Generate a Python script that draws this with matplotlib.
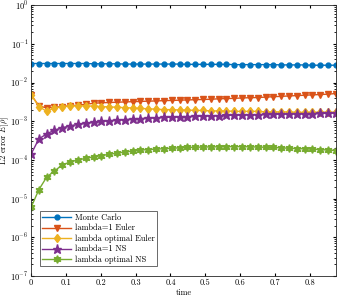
import matplotlib
matplotlib.use("Agg")
import matplotlib.pyplot as plt
import numpy as np

plt.rcParams['font.family'] = ['cmr10', 'DejaVu Serif']
plt.rcParams['mathtext.fontset'] = 'cm'
plt.rcParams['axes.formatter.use_mathtext'] = True

# 40 time points from 0 to 0.875
t = np.linspace(0, 0.875, 40)

mc = [3.1e-2, 3.1e-2, 3.1e-2, 3.1e-2, 3.1e-2, 3.1e-2, 3.1e-2, 3.1e-2, 3.05e-2, 3.05e-2,
      3.05e-2, 3.05e-2, 3.0e-2, 3.0e-2, 3.0e-2, 3.0e-2, 3.0e-2, 3.0e-2, 3.0e-2, 3.0e-2,
      2.95e-2, 2.95e-2, 2.95e-2, 2.95e-2, 2.95e-2, 2.95e-2, 2.9e-2, 2.9e-2, 2.9e-2, 2.9e-2,
      2.9e-2, 2.9e-2, 2.85e-2, 2.85e-2, 2.85e-2, 2.85e-2, 2.8e-2, 2.8e-2, 2.8e-2, 2.8e-2]

euler1 = [4.9e-3, 2.5e-3, 2.2e-3, 2.3e-3, 2.4e-3, 2.5e-3, 2.6e-3, 2.75e-3, 2.9e-3, 3.0e-3,
          3.05e-3, 3.1e-3, 3.15e-3, 3.2e-3, 3.25e-3, 3.3e-3, 3.35e-3, 3.4e-3, 3.45e-3, 3.5e-3,
          3.55e-3, 3.6e-3, 3.65e-3, 3.7e-3, 3.8e-3, 3.85e-3, 3.9e-3, 4.0e-3, 4.05e-3, 4.1e-3,
          4.2e-3, 4.3e-3, 4.4e-3, 4.5e-3, 4.6e-3, 4.7e-3, 4.8e-3, 4.9e-3, 5.0e-3, 5.2e-3]

euler_opt = [4.9e-3, 2.4e-3, 1.8e-3, 2.2e-3, 2.4e-3, 2.5e-3, 2.5e-3, 2.5e-3, 2.45e-3, 2.4e-3,
             2.35e-3, 2.3e-3, 2.25e-3, 2.2e-3, 2.15e-3, 2.1e-3, 2.05e-3, 2.0e-3, 2.0e-3, 1.95e-3,
             1.95e-3, 1.9e-3, 1.9e-3, 1.85e-3, 1.85e-3, 1.85e-3, 1.8e-3, 1.8e-3, 1.8e-3, 1.8e-3,
             1.75e-3, 1.75e-3, 1.75e-3, 1.75e-3, 1.7e-3, 1.7e-3, 1.7e-3, 1.7e-3, 1.7e-3, 1.7e-3]

ns1 = [1.4e-4, 3.5e-4, 4.7e-4, 5.9e-4, 6.8e-4, 7.6e-4, 8.3e-4, 8.9e-4, 9.4e-4, 9.9e-4,
       1.03e-3, 1.07e-3, 1.1e-3, 1.14e-3, 1.17e-3, 1.2e-3, 1.23e-3, 1.25e-3, 1.28e-3, 1.3e-3,
       1.32e-3, 1.34e-3, 1.36e-3, 1.38e-3, 1.4e-3, 1.42e-3, 1.44e-3, 1.45e-3, 1.47e-3, 1.48e-3,
       1.5e-3, 1.51e-3, 1.53e-3, 1.54e-3, 1.55e-3, 1.57e-3, 1.58e-3, 1.59e-3, 1.6e-3, 1.62e-3]

ns_opt = [5.9e-6, 1.7e-5, 3.6e-5, 5.2e-5, 7.4e-5, 8.9e-5, 1.0e-4, 1.1e-4, 1.2e-4, 1.3e-4,
          1.4e-4, 1.5e-4, 1.6e-4, 1.7e-4, 1.8e-4, 1.85e-4, 1.9e-4, 1.95e-4, 2.0e-4, 2.05e-4,
          2.1e-4, 2.12e-4, 2.15e-4, 2.17e-4, 2.18e-4, 2.2e-4, 2.2e-4, 2.2e-4, 2.18e-4, 2.15e-4,
          2.12e-4, 2.1e-4, 2.05e-4, 2.0e-4, 1.97e-4, 1.93e-4, 1.9e-4, 1.85e-4, 1.8e-4, 1.75e-4]

labels = ['Monte Carlo', 'lambda=1 Euler', 'lambda optimal Euler', 'lambda=1 NS', 'lambda optimal NS']
colors = ['#0072bd', '#d95319', '#edb120', '#7e2f8e', '#77ac30']
markers = ['o', 'v', 'd', '*', (6, 1, 0)]
sizes = [3.5, 4.5, 4.5, 6.5, 5.5]

fig = plt.figure(figsize=(3.41, 3.02), dpi=100)
ax = fig.add_axes([0.091, 0.086, 0.894, 0.897])

for y, lab, c, m, s in zip([mc, euler1, euler_opt, ns1, ns_opt], labels, colors, markers, sizes):
    ax.semilogy(t, y, color=c, marker=m, markersize=s, lw=1.0, label=lab)

ax.set_xlim(0, 0.875)
ax.set_ylim(1e-7, 1)
ax.set_xticks([0, 0.1, 0.2, 0.3, 0.4, 0.5, 0.6, 0.7, 0.8])
ax.set_xticklabels(['0', '0.1', '0.2', '0.3', '0.4', '0.5', '0.6', '0.7', '0.8'])
ax.tick_params(which='both', direction='in', top=True, right=True, labelsize=6, length=2.5, pad=2)
ax.tick_params(which='minor', length=1.5)
for sp in ax.spines.values():
    sp.set_color('#262626')
    sp.set_linewidth(0.6)
ax.set_xlabel('time', fontsize=6, labelpad=1)
ax.set_ylabel(r'L2 error $E[\rho]$', fontsize=6)
ax.yaxis.set_label_coords(-0.066, 0.5)

leg = ax.legend(loc='lower left', fontsize=6, fancybox=False, edgecolor='#262626',
                handlelength=3.5, borderpad=0.3, labelspacing=0.25, handletextpad=0.4,
                bbox_to_anchor=(0.015, 0.02))
leg.get_frame().set_linewidth(0.6)

fig.savefig('out.png', dpi=100)
